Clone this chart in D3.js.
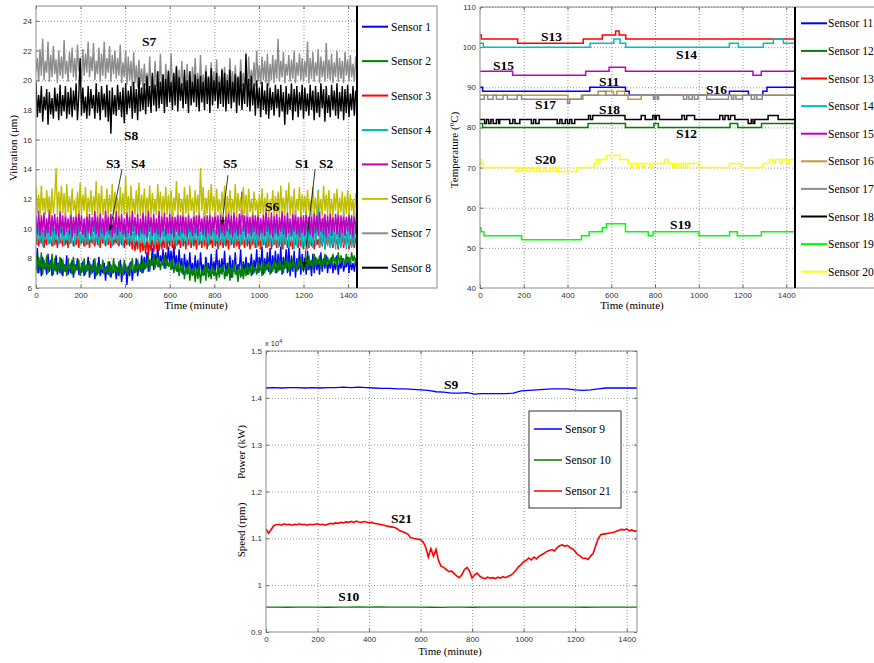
<!DOCTYPE html>
<html>
<head>
<meta charset="utf-8">
<script src="https://cdn.jsdelivr.net/npm/d3@7/dist/d3.min.js"></script>
<style>
body { margin: 0; background: #fff; }
.tk text { font-family: "Liberation Sans", Arial, sans-serif; font-size: 8px; fill: #333; }
.tk line { stroke: #666; }
.grid line { stroke: #999; stroke-dasharray: 1,2; }
</style>
</head>
<body>
<div id="chart"></div>
<script>
// ---- vibration (um), one sample every 6 minutes, 0..1440 (20 samples per row = 2 hours)
var vibStep = 6;
var vib1 = [
  7.2,8.7,7.0,7.8,6.8,8.1,7.3,7.6,6.9,8.3,7.1,7.9,6.8,7.5,7.2,8.2,6.9,7.7,7.0,8.0,
  6.8,7.6,7.1,8.2,6.9,7.4,7.0,7.9,6.7,7.6,7.2,8.0,6.9,7.3,7.0,7.8,6.8,7.5,7.1,8.1,
  6.7,7.6,7.0,7.9,6.6,7.4,6.9,8.1,6.8,7.3,7.0,7.7,6.5,7.5,6.9,7.8,6.7,7.2,7.0,7.6,
  6.6,7.4,6.8,7.9,6.4,7.3,6.9,7.6,6.2,7.5,6.8,7.8,6.5,7.4,7.0,8.0,6.8,7.6,7.1,8.2,
  7.0,8.1,7.3,8.4,7.1,7.9,7.5,8.7,7.2,8.3,7.6,8.9,7.4,8.2,7.7,8.6,7.3,8.4,7.5,8.8,
  7.6,8.5,7.3,8.9,7.5,8.2,7.1,8.6,7.3,8.0,6.9,8.3,7.2,7.9,7.0,8.4,7.1,7.7,6.9,8.2,
  7.0,7.9,6.8,8.4,7.1,7.6,6.9,8.1,7.2,7.7,6.8,8.3,7.0,7.8,7.1,8.6,6.9,7.9,7.0,8.0,
  7.1,8.5,6.8,7.7,7.0,8.2,6.7,7.9,7.1,8.4,6.9,7.6,7.2,8.6,6.8,7.8,7.0,8.1,6.9,7.7,
  7.1,8.3,6.9,7.9,7.2,8.6,7.0,8.1,7.3,8.8,6.9,8.0,7.2,8.4,7.1,8.7,7.0,8.2,7.3,8.5,
  7.0,8.3,7.2,8.8,6.9,8.1,7.3,8.6,7.0,8.9,6.8,8.2,7.1,8.5,6.7,8.0,7.2,8.7,6.9,8.3,
  7.1,8.0,6.9,8.5,7.2,7.8,6.8,8.3,7.0,8.1,7.2,7.9,6.9,8.4,7.1,8.0,7.3,8.2,7.0,7.8,
  7.3,8.1,7.0,7.7,7.2,8.2,6.9,7.8,7.3,8.0,7.1,7.6,7.4,8.1,7.0,7.9,7.2,7.7,7.1,8.0,
  7.2];
var vib2 = [
  8.3,7.0,8.1,7.3,8.4,6.9,7.9,7.2,8.2,7.0,7.8,7.3,8.3,6.9,8.0,7.1,7.7,7.2,8.1,6.9,
  7.9,7.1,7.6,6.8,8.0,7.2,7.7,6.9,8.1,7.0,7.5,7.2,7.9,6.8,7.7,7.1,8.0,6.9,7.6,7.2,
  7.8,6.9,7.5,7.1,8.0,6.8,7.7,7.0,7.6,7.2,7.9,6.9,7.4,7.1,7.8,6.8,7.6,7.0,8.0,7.1,
  7.5,6.9,7.8,7.0,7.6,6.8,7.9,7.1,7.4,6.9,7.7,7.2,8.0,7.0,7.6,7.1,7.9,7.2,7.7,7.0,
  8.0,7.2,7.8,7.4,8.2,7.1,7.9,7.5,8.3,7.3,8.0,7.4,8.1,7.2,7.8,7.5,8.2,7.3,8.0,7.4,
  7.8,7.2,8.0,7.0,7.6,7.1,7.9,6.8,7.5,7.0,7.7,6.6,7.4,6.9,7.6,6.5,7.3,6.8,7.5,6.4,
  7.3,6.6,7.6,6.3,7.2,6.8,7.5,6.5,7.7,6.7,7.3,6.6,7.5,6.8,7.2,6.5,7.6,6.7,7.4,6.9,
  7.6,6.6,7.3,6.8,7.7,6.5,7.4,6.7,7.8,6.9,7.2,6.4,7.5,6.7,7.6,6.6,7.3,6.8,7.7,6.9,
  7.5,6.8,7.7,7.0,7.4,6.9,7.8,7.1,7.5,6.8,7.9,7.0,7.6,7.2,7.8,6.9,7.5,7.1,7.9,7.0,
  7.7,7.1,8.0,7.2,7.6,7.0,7.9,7.3,8.1,7.1,7.8,7.2,8.0,7.4,7.7,7.1,7.9,7.3,8.1,7.2,
  7.8,7.3,8.1,7.2,8.2,7.5,7.9,7.3,8.3,7.4,8.0,7.6,8.2,7.3,7.9,7.5,8.3,7.4,8.1,7.6,
  8.0,7.5,8.3,7.7,8.1,7.4,8.4,7.6,8.2,7.8,8.0,7.5,8.3,7.7,8.1,7.6,8.4,7.8,8.2,7.6,
  8.1];
var vib3 = [
  8.9,9.7,8.8,9.4,9.0,9.9,8.7,9.5,8.9,9.6,9.0,9.3,8.8,9.8,8.9,9.5,8.7,9.6,9.0,9.4,
  8.8,9.7,8.9,9.4,8.7,9.9,9.0,9.5,8.8,9.3,8.9,9.8,8.7,9.6,9.0,9.4,8.8,9.7,8.9,9.5,
  8.7,9.6,9.0,9.4,8.8,9.9,8.9,9.5,8.7,9.8,9.0,9.3,8.8,9.7,8.9,9.5,8.7,9.6,8.9,9.4,
  9.0,9.8,8.8,9.5,8.9,9.7,8.7,9.4,8.9,9.9,8.8,9.5,8.6,9.7,8.5,9.3,8.6,9.6,8.4,9.4,
  8.5,9.2,8.3,9.5,8.2,9.3,8.5,9.6,8.4,9.2,8.6,9.7,8.5,9.4,8.6,9.3,8.7,9.5,8.6,9.6,
  8.8,9.4,8.7,9.7,8.6,9.5,8.9,9.3,8.7,9.8,8.8,9.5,8.6,9.7,8.9,9.4,8.7,9.6,8.8,9.5,
  8.6,9.8,8.9,9.4,8.7,9.6,8.8,9.5,8.6,9.7,8.9,9.4,8.7,9.8,8.8,9.5,8.6,9.6,8.9,9.4,
  8.7,9.7,8.8,9.5,8.6,9.9,8.9,9.4,8.7,9.6,8.8,9.5,8.6,9.7,8.9,9.4,8.7,9.8,8.8,9.5,
  8.6,9.6,8.9,9.4,8.7,9.8,8.8,9.5,8.6,9.7,8.9,9.3,8.7,9.6,8.8,9.9,8.6,9.5,8.9,9.4,
  8.7,9.7,8.8,9.5,8.6,9.8,8.9,9.4,8.7,9.6,8.8,9.3,8.6,9.7,8.9,9.5,8.7,9.6,8.8,9.4,
  8.6,9.5,8.9,9.3,8.7,9.7,8.8,9.4,8.6,9.6,8.9,9.3,8.7,9.5,8.8,9.7,8.6,9.4,8.9,9.6,
  8.8,9.4,8.7,9.6,8.9,9.3,8.6,9.5,8.8,9.7,8.7,9.4,8.9,9.5,8.6,9.3,8.8,9.6,8.7,9.4,
  8.9];
var vib4 = [
  10.9,8.9,10.2,9.1,10.5,8.8,9.9,9.2,10.4,8.9,10.1,9.0,10.6,8.8,10.0,9.2,10.3,8.9,10.5,9.1,
  10.0,8.8,10.4,9.2,9.9,8.9,10.3,9.0,10.6,8.8,10.1,9.2,10.4,8.9,9.9,9.1,10.5,8.8,10.2,9.0,
  10.6,9.2,10.0,8.9,10.4,9.1,10.7,8.8,10.2,9.2,9.9,9.0,10.5,8.9,10.3,9.1,10.0,8.8,10.4,9.2,
  10.1,8.9,10.5,9.0,10.2,8.8,10.4,9.2,9.9,8.9,10.6,9.1,10.3,8.8,10.0,9.2,10.4,8.9,10.1,9.0,
  10.5,8.8,10.2,9.1,10.4,8.9,9.9,9.2,10.6,8.8,10.1,9.0,10.3,8.9,10.5,9.2,10.0,8.8,10.4,9.1,
  10.2,8.9,10.6,9.0,10.1,8.8,10.4,9.2,9.9,8.9,10.5,9.1,10.2,8.8,10.6,9.0,10.3,8.9,10.1,9.2,
  10.4,8.8,10.0,9.1,10.5,8.9,10.2,9.0,10.6,8.8,10.1,9.2,10.4,8.9,9.9,9.1,10.3,8.8,10.5,9.0,
  10.2,8.9,10.4,9.2,10.0,8.8,10.6,9.0,10.3,8.9,10.1,9.1,10.5,8.8,10.2,9.0,10.4,8.9,10.6,9.1,
  10.3,8.8,10.7,9.0,10.2,8.7,10.5,9.1,10.6,8.8,10.3,8.9,10.8,8.7,10.4,9.0,10.6,8.8,10.2,8.9,
  10.7,8.7,10.3,9.0,10.6,8.6,10.4,8.9,10.8,8.7,10.2,9.0,10.5,8.6,10.7,8.8,10.3,8.9,10.6,8.7,
  10.4,8.8,10.7,8.6,10.3,8.9,10.5,8.7,10.6,8.8,10.2,12.6,8.7,10.4,8.9,10.8,8.6,10.5,8.8,10.3,
  8.7,10.6,8.9,10.4,8.6,10.7,8.8,10.2,8.7,10.5,8.9,10.6,8.6,10.3,8.8,10.7,8.7,10.4,8.9,10.5,
  8.8];
var vib5 = [
  10.8,9.6,11.2,9.5,10.9,9.8,11.1,9.4,10.7,9.7,11.3,9.5,10.9,9.8,11.0,9.6,10.8,9.4,11.2,9.7,
  10.9,9.5,11.1,9.8,10.7,9.6,11.3,9.4,10.8,9.7,11.0,9.5,11.2,9.8,10.9,9.6,10.7,9.4,11.1,9.7,
  11.0,9.5,10.8,9.8,11.2,9.6,10.9,9.4,11.1,9.7,10.7,9.5,11.3,9.8,10.9,9.6,11.0,9.4,10.8,9.7,
  11.2,9.5,10.9,9.8,11.0,9.6,10.7,9.4,11.1,9.7,10.9,9.5,11.2,9.8,10.8,9.6,11.0,9.5,10.7,9.7,
  11.1,9.6,10.9,9.4,11.3,9.8,10.8,9.5,11.0,9.7,10.7,9.6,11.2,9.4,10.9,9.8,11.1,9.5,10.8,9.7,
  11.0,9.6,11.2,9.4,10.8,9.8,11.1,9.5,10.9,9.7,11.3,9.6,10.8,9.4,11.0,9.8,10.7,9.5,11.2,9.7,
  10.9,9.5,11.1,9.8,10.7,9.6,11.2,9.4,10.9,9.7,11.0,9.5,10.8,9.8,11.3,9.6,10.9,9.4,11.1,9.7,
  10.8,9.5,11.0,9.8,11.2,9.6,10.9,9.4,11.1,9.7,10.8,9.5,11.0,9.6,12.5,9.8,10.9,9.4,11.2,9.7,
  10.8,9.5,11.1,9.8,10.9,9.6,11.2,9.4,10.7,9.7,11.0,9.5,11.3,9.8,10.8,9.6,11.1,9.4,10.9,9.7,
  11.0,9.5,10.8,9.8,11.2,9.6,10.9,9.4,11.1,9.7,10.7,9.5,11.0,9.8,11.2,9.6,10.8,9.4,11.1,9.7,
  10.9,9.5,11.2,9.8,10.8,9.6,11.0,9.4,11.1,9.7,10.9,9.5,11.2,9.8,10.7,9.6,11.0,9.4,10.9,9.7,
  11.1,9.5,10.8,9.8,11.0,9.6,11.2,9.4,10.9,9.7,11.1,9.5,10.8,9.8,11.0,9.6,10.9,9.4,11.2,9.7,
  10.9];
var vib6 = [
  12.8,11.0,12.3,10.8,12.9,11.2,12.1,10.9,12.6,11.1,12.2,10.8,12.7,11.0,12.0,14.1,10.9,12.5,11.2,12.9,
  11.0,12.4,10.8,13.0,11.1,12.2,10.9,12.7,11.2,11.9,10.8,12.5,11.0,13.1,10.9,12.3,11.2,12.8,10.8,12.1,
  11.1,12.6,10.9,12.2,11.2,13.2,10.8,12.4,11.0,12.9,10.9,12.0,11.2,12.7,10.8,12.3,11.1,13.0,10.9,12.5,
  11.2,12.1,10.8,12.8,11.0,12.4,10.9,13.6,11.1,12.2,10.8,12.9,11.2,12.0,10.9,12.6,11.0,13.1,10.8,12.3,
  11.1,12.7,10.9,12.1,11.2,12.9,10.8,12.4,11.0,12.0,10.9,13.0,11.2,12.5,10.8,12.2,11.1,12.8,10.9,12.3,
  11.0,12.6,10.8,12.1,11.2,13.2,10.9,12.4,11.1,12.0,10.8,12.8,11.0,12.3,10.9,12.9,11.2,12.1,10.8,12.6,
  11.1,12.3,10.9,14.1,11.2,12.8,10.8,12.1,11.0,12.6,10.9,13.0,11.2,12.2,10.8,12.7,11.1,12.0,10.9,12.5,
  11.2,12.9,10.8,12.2,11.0,12.6,10.9,12.0,11.1,13.0,10.8,12.4,11.2,12.1,10.9,12.8,11.0,12.3,10.8,12.7,
  11.1,12.0,10.9,12.5,11.2,11.9,10.8,12.3,11.0,12.7,10.9,12.1,11.1,12.4,10.8,11.9,11.2,12.6,10.9,12.2,
  11.0,12.5,10.8,12.9,11.2,12.1,10.9,12.6,11.1,13.1,10.8,12.2,11.0,12.7,10.9,12.0,11.2,12.8,10.8,12.3,
  11.1,12.2,10.9,12.6,11.2,11.9,10.8,12.8,11.0,12.1,10.9,12.5,11.1,12.0,10.8,12.9,11.2,12.3,10.9,12.6,
  11.0,12.0,10.8,12.4,11.2,12.7,10.9,12.1,11.1,12.5,10.8,12.2,11.0,12.6,10.9,12.3,11.2,12.0,10.8,12.4,
  11.1];
var vib7 = [
  20.6,21.5,19.9,22.1,20.3,22.8,20.0,21.3,20.5,22.6,19.9,21.7,20.2,22.3,20.4,21.4,19.8,22.0,20.3,21.6,
  20.1,22.7,20.4,21.3,19.9,21.9,20.5,22.2,20.2,21.5,20.0,22.4,20.6,21.2,19.9,22.1,20.3,21.8,20.5,22.6,
  20.2,21.6,20.6,22.5,20.0,21.3,20.4,22.2,19.9,21.8,20.3,22.6,20.1,21.5,20.5,22.3,19.9,21.7,20.4,22.0,
  20.1,21.5,20.3,22.4,19.8,21.2,20.2,22.0,19.7,21.6,20.0,21.3,19.6,21.9,19.8,21.0,19.5,21.4,19.7,20.8,
  19.4,21.1,19.6,20.5,19.2,21.6,19.5,20.3,19.1,21.3,19.6,20.6,19.2,21.8,19.4,20.4,19.0,21.1,19.5,20.7,
  19.2,21.8,19.5,20.4,19.1,21.0,19.4,20.7,19.0,21.3,19.6,20.3,19.2,21.1,19.5,20.6,19.1,20.9,19.4,21.5,
  19.3,20.5,19.1,21.7,19.5,20.4,19.2,21.0,19.6,20.3,19.1,21.2,19.4,20.6,19.2,21.4,19.5,20.3,19.0,20.8,
  19.4,20.9,19.2,20.4,19.6,21.5,19.3,20.6,19.1,21.0,19.5,20.3,19.2,21.4,19.6,20.5,19.3,20.8,19.5,21.6,
  19.6,20.7,19.8,21.2,19.6,22.0,19.9,21.0,19.7,21.6,20.0,21.3,19.8,21.8,19.6,21.1,20.0,21.7,19.8,21.4,
  20.1,22.8,19.9,21.3,20.2,21.9,19.8,21.1,20.3,21.7,19.9,21.4,20.1,22.0,19.8,21.2,20.3,21.8,20.0,21.5,
  19.9,21.3,20.2,22.6,19.8,21.5,20.1,21.9,19.9,21.2,20.3,22.1,19.8,21.6,20.2,21.3,19.9,22.5,20.1,21.4,
  20.0,21.8,19.8,21.2,20.2,22.0,19.9,21.5,20.1,21.3,19.8,21.9,20.3,21.4,19.9,21.7,20.2,21.1,19.9,21.6,
  20.3];
var vib8 = [
  19.9,17.5,19.0,17.8,19.6,17.2,18.9,18.0,19.4,17.0,19.2,17.7,18.8,17.4,19.5,17.9,19.1,17.3,19.7,17.6,
  19.0,17.9,19.6,17.4,19.2,17.7,19.5,17.5,19.3,18.0,19.8,17.3,19.0,21.5,17.6,19.5,17.8,18.9,17.4,19.6,
  17.6,19.4,18.1,19.0,17.4,19.8,17.8,19.2,17.3,19.6,18.0,19.1,17.5,19.7,17.2,19.3,16.4,19.5,17.7,19.0,
  17.6,19.7,18.0,19.2,17.5,19.5,17.1,19.8,17.7,19.3,18.1,19.6,17.4,19.9,17.8,19.4,17.3,20.2,17.9,19.5,
  18.0,19.8,17.7,20.3,18.2,19.6,17.8,20.5,18.3,19.7,17.9,20.6,18.1,19.9,18.4,20.4,17.8,20.1,18.2,20.6,
  18.5,19.9,18.0,20.5,18.3,20.9,17.9,20.2,18.6,19.8,18.1,20.7,18.4,20.0,17.8,20.6,18.3,19.9,18.5,20.4,
  18.2,20.1,17.9,20.3,18.5,19.9,18.0,20.6,18.4,20.2,17.8,20.8,18.3,20.0,18.6,20.5,18.1,19.9,18.4,20.7,
  18.2,20.5,17.9,20.0,18.4,20.7,18.1,19.9,18.5,20.4,17.8,20.2,18.3,20.6,18.0,19.8,18.4,21.8,18.2,20.1,
  17.9,20.3,18.3,19.8,17.6,20.0,18.1,19.5,17.5,19.9,18.0,19.3,17.7,19.8,17.4,19.5,18.0,19.2,17.6,19.7,
  18.1,19.4,17.5,19.7,17.9,19.2,17.0,19.6,17.7,19.1,18.0,19.8,17.3,19.4,17.9,19.6,17.5,19.2,18.0,19.7,
  17.4,19.5,17.9,19.1,17.6,19.7,18.0,19.3,17.3,19.6,17.8,19.2,17.5,19.8,18.1,19.4,17.2,19.6,17.8,19.0,
  17.5,19.7,18.0,19.3,17.6,19.8,17.4,19.2,17.9,19.6,17.3,19.4,17.8,19.7,17.5,19.1,18.0,19.6,17.6,19.3,
  18.4];
var vibSeries = [vib1, vib2, vib3, vib4, vib5, vib6, vib7, vib8];
var vibNames = ["Sensor 1","Sensor 2","Sensor 3","Sensor 4","Sensor 5","Sensor 6","Sensor 7","Sensor 8"];
var vibColors = ["#0000ff","#008000","#ff0000","#00bfbf","#bf00bf","#bfbf00","#8c8c8c","#000000"];
var vibTicks = [6,8,10,12,14,16,18,20,22,24];
// label name, time, value
var vibNotes = [["S7",476,22.3],["S8",395,15.97],["S3",314,14.09],["S4",426,14.09],
  ["S5",839,14.09],["S1",1162,14.09],["S2",1270,14.09],["S6",1027,11.19]];
// arrow from [t,v] to [t,v]
var vibArrows = [[386,14.0,332,9.9],[861,13.6,834,10.25],[1252,14.0,1202,7.4]];

// ---- temperature (C), step changes [minute, value]
var temp11 = [[0,90],[12,89],[502,90],[665,89],[682,88],[1140,89],[1227,88],[1293,89],[1312,90],[1440,90]];
var temp12 = [[0,81],[12,80],[494,81],[665,80],[795,81],[815,80],[1143,81],[1178,80],[1287,81],[1440,81]];
var temp13 = [[0,103],[6,102],[172,101],[472,102],[559,103],[620,104],[636,103],[666,102],[1440,102]];
var temp14 = [[0,101],[15,100],[503,101],[612,102],[640,101],[666,100],[1140,101],[1181,100],[1295,101],[1341,102],[1387,101],[1440,101]];
var temp15 = [[0,94],[149,93],[483,94],[590,95],[665,94],[1248,93],[1286,94],[1440,94]];
var temp16 = [[0,88],[402,87],[463,88],[574,89],[610,88],[625,89],[661,88],[677,87],[737,88],[1440,88]];
var temp17 = [[0,87],[20,88],[35,87],[60,88],[75,87],[105,88],[125,87],[170,88],[190,87],[400,86],[410,87],
  [470,88],[540,89],[575,88],[793,87],[800,88],[810,87],[816,88],[930,87],[945,88],[955,87],[970,88],[980,87],[997,88],
  [1036,87],[1136,88],[1150,87],[1160,88],[1170,87],[1200,88],[1240,87],[1255,88],[1265,87],[1290,88],[1440,88]];
var temp18 = [[0,82],[21,81],[30,82],[40,81],[50,82],[60,81],[75,82],[85,81],[90,82],[136,81],[150,82],[160,81],[182,82],
  [235,81],[245,82],[255,81],[270,82],[353,81],[365,82],[375,81],[390,82],[400,81],[410,82],[420,81],[433,82],
  [496,83],[505,82],[515,83],[663,82],[737,83],[755,82],[790,83],[800,82],[806,83],[820,82],[923,83],[935,82],[945,83],
  [981,82],[1096,83],[1110,82],[1120,83],[1135,82],[1145,83],[1165,82],[1226,81],[1240,82],[1248,81],[1256,82],
  [1317,83],[1363,82],[1440,82]];
var temp19 = [[0,55],[5,54],[18,53],[190,52],[464,53],[499,54],[559,55],[578,56],[665,54],[769,53],[791,54],
  [1001,53],[1141,54],[1176,53],[1286,54],[1440,54]];
var temp20 = [[0,72],[8,71],[14,70],[164,69],[175,70],[190,69],[200,70],[215,69],[230,70],[245,69],[260,70],[270,69],
  [290,70],[300,69],[320,70],[335,69],[350,70],[360,69],[441,70],[522,71],[530,72],[540,71],[548,72],[578,73],[639,72],
  [677,71],[690,70],[700,71],[715,70],[725,71],[740,70],[750,71],[776,70],[791,71],[845,72],[860,71],[880,70],[890,71],
  [900,70],[910,71],[920,70],[930,71],[940,70],[950,71],[997,70],[1141,71],[1194,70],[1293,71],[1324,72],[1340,71],
  [1350,72],[1370,71],[1380,72],[1400,71],[1410,72],[1440,72]];
var tempSeries = [temp11, temp12, temp13, temp14, temp15, temp16, temp17, temp18, temp19, temp20];
var tempNames = ["Sensor 11","Sensor 12","Sensor 13","Sensor 14","Sensor 15","Sensor 16","Sensor 17","Sensor 18","Sensor 19","Sensor 20"];
var tempColors = ["#0000ff","#008000","#ff0000","#00bfbf","#bf00bf","#c8963c","#8c8c8c","#000000","#00ff00","#ffff00"];
var tempTicks = [40,50,60,70,80,90,100,110];
var tempNotes = [["S13",279,101.5],["S14",896,97.05],["S15",59,94.3],["S11",544,90.3],["S16",1033,88.3],
  ["S17",251,84.6],["S18",544,83.35],["S12",896,77.4],["S20",251,70.9],["S19",869,54.7]];

// ---- power (kW) and speed (rpm)
var power9Step = 30;
var power9 = [14210,14220,14210,14220,14220,14210,14220,14210,14220,14220,14230,14220,14230,14220,14210,14200,
  14200,14190,14190,14180,14170,14160,14130,14120,14100,14100,14110,14080,14090,14090,14090,14090,14100,14150,
  14160,14170,14180,14190,14190,14190,14170,14160,14170,14190,14210,14210,14210,14210,14210];
var power10Step = 40;
var power10 = [9530,9532,9529,9531,9533,9530,9528,9531,9532,9535,9531,9534,9530,9529,9531,9530,9528,9525,9530,
  9532,9529,9531,9533,9530,9531,9532,9529,9530,9531,9530,9532,9529,9531,9530,9532,9530,9531];
var speed21Step = 10;
var speed21 = [11200,11110,11190,11270,11290,11300,11280,11310,11290,11300,11280,
  11300,11290,11310,11290,11300,11280,11300,11290,11300,11310, 11290,11300,11280,11300,11320,11310,11330,11320,11340,11330,
  11350,11340,11360,11340,11370,11350,11340,11360,11350,11330, 11340,11320,11310,11300,11290,11280,11260,11250,11240,11230,
  11200,11160,11140,11120,11090,11020,11000,10990,10980,10970, 10920,10810,10600,10780,10620,10760,10520,10400,10380,10330,
  10290,10300,10250,10200,10160,10220,10330,10380,10300,10150, 10220,10260,10190,10160,10140,10170,10150,10160,10140,10170,
  10150,10180,10160,10190,10210,10260,10320,10390,10440,10500, 10530,10580,10540,10600,10560,10620,10650,10680,10720,10740,
  10760,10730,10800,10840,10860,10830,10850,10800,10780,10720, 10650,10620,10570,10580,10550,10620,10680,10850,11000,11080,
  11090,11100,11110,11120,11130,11150,11170,11190,11180,11200, 11160,11180,11150,11160];
var psNames = ["Sensor 9","Sensor 10","Sensor 21"];
var psColors = ["#0000ff","#008000","#ff0000"];
var psTicks = [9000,10000,11000,12000,13000,14000,15000];
var psNotes = [["S9",691,14189],["S21",485,11328],["S10",280,9662]];

var timeTicks = [0,200,400,600,800,1000,1200,1400];

var serif = "'Liberation Serif', 'Times New Roman', serif";
var W = 874, H = 663;
var svg = d3.select("#chart").append("svg").attr("width", W).attr("height", H);
svg.append("rect").attr("width", W).attr("height", H).attr("fill", "#fff");

var defs = svg.append("defs");
defs.append("marker").attr("id", "arr").attr("viewBox", "0 0 10 10").attr("refX", 9).attr("refY", 5)
  .attr("markerWidth", 7).attr("markerHeight", 7).attr("orient", "auto")
  .append("path").attr("d", "M0,1L10,5L0,9z").attr("fill", "#000");

function txt(sel, size, bold) {
  return sel.style("font-family", serif).style("font-size", size + "px")
    .style("font-weight", bold ? "bold" : "normal").style("fill", "#000");
}

function panel(o) {
  var x = d3.scaleLinear().domain([0, 1440]).range([o.x0, o.x1]);
  var y = d3.scaleLinear().domain(o.yDomain).range([o.y1, o.y0]);
  var g = svg.append("g");

  // dotted grid
  g.append("g").attr("class", "grid").attr("transform", "translate(0," + o.y1 + ")")
    .call(d3.axisBottom(x).tickValues(timeTicks.filter(function(t) { return t > 0; })).tickSize(-(o.y1 - o.y0)).tickFormat(""))
    .select(".domain").remove();
  g.append("g").attr("class", "grid").attr("transform", "translate(" + o.x0 + ",0)")
    .call(d3.axisLeft(y).tickValues(o.yTicks.slice(1)).tickSize(-(o.x1 - o.x0)).tickFormat(""))
    .select(".domain").remove();

  // ticks inside, matlab style
  g.append("g").attr("class", "tk").attr("transform", "translate(0," + o.y1 + ")")
    .call(d3.axisBottom(x).tickValues(timeTicks).tickSize(-3).tickPadding(4).tickFormat(d3.format("d")))
    .select(".domain").remove();
  g.append("g").attr("class", "tk").attr("transform", "translate(0," + o.y0 + ")")
    .call(d3.axisTop(x).tickValues(timeTicks).tickSize(-3).tickFormat(""))
    .select(".domain").remove();
  g.append("g").attr("class", "tk").attr("transform", "translate(" + o.x0 + ",0)")
    .call(d3.axisLeft(y).tickValues(o.yTicks).tickSize(-3).tickPadding(4).tickFormat(o.fmt || d3.format("d")))
    .select(".domain").remove();
  if (o.rightTicks) {
    g.append("g").attr("class", "tk").attr("transform", "translate(" + o.x1 + ",0)")
      .call(d3.axisRight(y).tickValues(o.yTicks).tickSize(-3).tickFormat(""))
      .select(".domain").remove();
  }

  var clipId = "c" + Math.round(o.x0);
  defs.append("clipPath").attr("id", clipId).append("rect")
    .attr("x", o.x0).attr("y", o.y0).attr("width", o.x1 - o.x0).attr("height", o.y1 - o.y0);
  var plot = g.append("g").attr("clip-path", "url(#" + clipId + ")");

  return { x: x, y: y, g: g, plot: plot };
}

function notes(p, list) {
  txt(p.g.selectAll("text.ann").data(list).enter().append("text").attr("class", "ann"), 13.5, true)
    .attr("x", function(d) { return p.x(d[1]); }).attr("y", function(d) { return p.y(d[2]); })
    .text(function(d) { return d[0]; });
}

function legend(p, names, colors, x0, y0, dy, len, gap) {
  var lg = p.g.selectAll("g.lg").data(names).enter().append("g").attr("class", "lg")
    .attr("transform", function(d, i) { return "translate(" + x0 + "," + (y0 + i * dy) + ")"; });
  lg.append("line").attr("x1", 0).attr("x2", len)
    .attr("stroke", function(d, i) { return colors[i]; }).attr("stroke-width", 2);
  txt(lg.append("text"), 11.5).attr("x", len + gap).attr("y", 4).text(function(d) { return d; });
}

// ================= vibration panel
var p1 = panel({ x0: 36, x1: 357, y0: 6, y1: 288, yDomain: [6, 25], yTicks: vibTicks });
var vibLine = d3.line()
  .x(function(d, i) { return p1.x(i * vibStep); })
  .y(function(d) { return p1.y(d); });
p1.plot.selectAll("path.vib").data(vibSeries).enter().append("path")
  .attr("class", "vib")
  .attr("d", vibLine)
  .attr("fill", "none")
  .attr("stroke", function(d, i) { return vibColors[i]; })
  .attr("stroke-width", 1.4)
  .attr("stroke-linejoin", "bevel");

p1.g.append("rect").attr("x", 36).attr("y", 6).attr("width", 401).attr("height", 282)
  .attr("fill", "none").attr("stroke", "#8a8a8a");
p1.g.append("line").attr("x1", 357).attr("x2", 357).attr("y1", 6).attr("y2", 288)
  .attr("stroke", "#000").attr("stroke-width", 2);
legend(p1, vibNames, vibColors, 362, 26.7, 34.43, 26, 3);
notes(p1, vibNotes);
p1.g.selectAll("line.arr").data(vibArrows).enter().append("line")
  .attr("x1", function(d) { return p1.x(d[0]); }).attr("y1", function(d) { return p1.y(d[1]); })
  .attr("x2", function(d) { return p1.x(d[2]); }).attr("y2", function(d) { return p1.y(d[3]); })
  .attr("stroke", "#000").attr("stroke-width", 0.8).attr("marker-end", "url(#arr)");

txt(svg.append("text"), 11).attr("text-anchor", "middle")
  .attr("transform", "translate(17,148) rotate(-90)").text("Vibration (\u03bcm)");
txt(svg.append("text"), 11).attr("text-anchor", "middle")
  .attr("x", 196).attr("y", 309).text("Time (minute)");

// ================= temperature panel
var p2 = panel({ x0: 480, x1: 795, y0: 7, y1: 288, yDomain: [40, 110], yTicks: tempTicks });
var tempLine = d3.line().curve(d3.curveStepAfter)
  .x(function(d) { return p2.x(d[0]); })
  .y(function(d) { return p2.y(d[1]); });
p2.plot.selectAll("path.tmp").data(tempSeries).enter().append("path")
  .attr("class", "tmp")
  .attr("d", tempLine)
  .attr("fill", "none")
  .attr("stroke", function(d, i) { return tempColors[i]; })
  .attr("stroke-width", 1.5);

p2.g.append("rect").attr("x", 480).attr("y", 7).attr("width", 420).attr("height", 281)
  .attr("fill", "none").attr("stroke", "#8a8a8a");
p2.g.append("line").attr("x1", 795).attr("x2", 795).attr("y1", 7).attr("y2", 288)
  .attr("stroke", "#000").attr("stroke-width", 2);
legend(p2, tempNames, tempColors, 801, 23.3, 27.6, 26, 1);
notes(p2, tempNotes);

var tl = txt(svg.append("text"), 11).attr("text-anchor", "middle")
  .attr("transform", "translate(458,150) rotate(-90)");
tl.append("tspan").text("Temperature (");
tl.append("tspan").style("font-size", "7px").attr("dy", -4).text("0");
tl.append("tspan").attr("dy", 4).text("C)");
txt(svg.append("text"), 11).attr("text-anchor", "middle")
  .attr("x", 632).attr("y", 309).text("Time (minute)");

// ================= power / speed panel
var p3 = panel({ x0: 266, x1: 637, y0: 351, y1: 632, yDomain: [9000, 15000], yTicks: psTicks, rightTicks: true,
  fmt: function(v) { return d3.format("~g")(v / 10000); } });
var psLine = function(step) {
  return d3.line()
    .x(function(d, i) { return p3.x(i * step); })
    .y(function(d) { return p3.y(d); });
};
var psData = [[power9, power9Step], [power10, power10Step], [speed21, speed21Step]];
p3.plot.selectAll("path.ps").data(psData).enter().append("path")
  .attr("class", "ps")
  .attr("d", function(d) { return psLine(d[1])(d[0]); })
  .attr("fill", "none")
  .attr("stroke", function(d, i) { return psColors[i]; })
  .attr("stroke-width", function(d, i) { return i == 2 ? 1.6 : 1.3; });

p3.g.append("rect").attr("x", 266).attr("y", 351).attr("width", 371).attr("height", 281)
  .attr("fill", "none").attr("stroke", "#8a8a8a");
p3.g.append("rect").attr("x", 529).attr("y", 411).attr("width", 92).attr("height", 97)
  .attr("fill", "#fff").attr("stroke", "#333");
legend(p3, psNames, psColors, 534, 429, 31, 28, 3);
p3.g.selectAll("g.lg line").attr("stroke-width", 1.5);
notes(p3, psNotes);

var ex = svg.append("text").attr("x", 265).attr("y", 346)
  .style("font-family", "'Liberation Sans', Arial, sans-serif").style("font-size", "7.5px").style("fill", "#333");
ex.append("tspan").text("x 10");
ex.append("tspan").style("font-size", "5.5px").attr("dy", -3).text("4");

txt(svg.append("text"), 11).attr("text-anchor", "middle")
  .attr("transform", "translate(245,452) rotate(-90)").text("Power (kW)");
txt(svg.append("text"), 11).attr("text-anchor", "middle")
  .attr("transform", "translate(245,530) rotate(-90)").text("Speed (rpm)");
txt(svg.append("text"), 11).attr("text-anchor", "middle")
  .attr("x", 450).attr("y", 655).text("Time (minute)");
</script>
</body>
</html>
